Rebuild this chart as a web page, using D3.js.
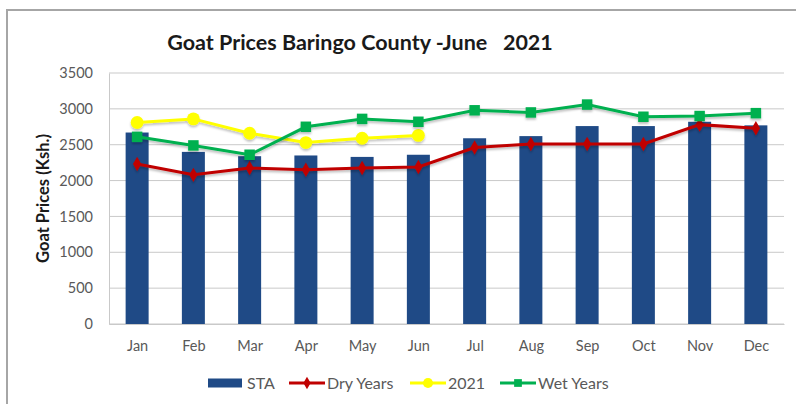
<!DOCTYPE html>
<html lang="en">
<head>
<meta charset="UTF-8">
<title>Goat Prices Baringo County</title>
<script src="https://d3js.org/d3.v7.min.js"></script>
<style>
    body{ margin:0; background:#fff; }
    text{ font-family: Lato, "Liberation Sans", Arial, sans-serif; }
    .tick text{ font-size:14.5px; fill:#595959; }
    .grid line{ stroke:#c9c9c9; }
</style>
</head>
<body>
<svg width="796" height="404"></svg>
<script>
    // data
    const months = ["Jan","Feb","Mar","Apr","May","Jun","Jul","Aug","Sep","Oct","Nov","Dec"]
    const sta = [2670, 2400, 2340, 2350, 2330, 2360, 2590, 2620, 2760, 2760, 2820, 2770]
    const dryYears = [2230, 2080, 2175, 2150, 2175, 2190, 2460, 2510, 2510, 2510, 2780, 2730]
    const y2021 = [2810, 2860, 2660, 2530, 2590, 2630]
    const wetYears = [2610, 2490, 2360, 2750, 2860, 2820, 2980, 2950, 3060, 2890, 2900, 2940]
    const yTicks = [0, 500, 1000, 1500, 2000, 2500, 3000, 3500]

    const svg = d3.select("svg")
    const margin = {left:109, right:12, top:73, bottom:80}
    const width = 796, height = 404

    // chart frame (cropped at right/bottom in the source)
    svg.append("rect")
        .attr("x", 7).attr("y", 10)
        .attr("width", 800).attr("height", 400)
        .attr("fill", "none").attr("stroke", "#a6a6a6").attr("stroke-width", 2)

    let xc = d3.scalePoint()
        .domain(months)
        .range([margin.left, width - margin.right])
        .padding(0.5)
    let y = d3.scaleLinear()
        .domain([0, 3500])
        .range([height - margin.bottom, margin.top])

    // gridlines
    svg.append("g").attr("class", "grid")
        .selectAll("line").data(yTicks).enter().append("line")
        .attr("x1", margin.left).attr("x2", width - margin.right)
        .attr("y1", d => y(d)).attr("y2", d => y(d))

    // y axis
    let yAxis = svg.append("g")
        .attr("transform", `translate(${margin.left},0)`)
        .call(d3.axisLeft(y).tickValues(yTicks).tickFormat(d3.format("d")).tickSize(0).tickPadding(16))
    yAxis.select(".domain").attr("stroke", "#c9c9c9")

    // x axis
    let xAxis = svg.append("g")
        .attr("transform", `translate(0,${height - margin.bottom})`)
        .call(d3.axisBottom(xc).tickSize(0).tickPadding(17))
    xAxis.select(".domain").attr("stroke", "#c9c9c9")

    // bars
    svg.append("g").selectAll("rect").data(sta).enter().append("rect")
        .attr("x", (d, i) => xc(months[i]) - 11.5)
        .attr("width", 23)
        .attr("y", d => y(d))
        .attr("height", d => y(0) - y(d))
        .attr("fill", "#1f4a86")

    let line = d3.line()
        .x((d, i) => xc(months[i]))
        .y(d => y(d))

    // soft shadow under the lines, like the source
    const defs = svg.append("defs")
    defs.append("filter").attr("id", "shadow")
        .attr("x", "-10%").attr("y", "-20%").attr("width", "120%").attr("height", "160%")
        .append("feDropShadow")
        .attr("dx", 0).attr("dy", 2).attr("stdDeviation", 1.2)
        .attr("flood-color", "#000").attr("flood-opacity", 0.25)

    function drawSeries(vals, color, shape, size) {
        let g = svg.append("g").attr("filter", "url(#shadow)")
        g.append("path").datum(vals)
            .attr("d", line)
            .attr("fill", "none")
            .attr("stroke", color)
            .attr("stroke-width", 3)
        g.selectAll("path.m").data(vals).enter().append("path")
            .attr("class", "m")
            .attr("d", d3.symbol().type(shape).size(size))
            .attr("transform", (d, i) => `translate(${xc(months[i])},${y(d)})`)
            .attr("fill", color)
    }

    drawSeries(dryYears, "#c00000", d3.symbolDiamond, 60)
    drawSeries(y2021, "#ffff00", d3.symbolCircle, 130)
    drawSeries(wetYears, "#00b050", d3.symbolSquare, 110)

    // title
    svg.append("text")
        .attr("x", 360).attr("y", 50)
        .attr("text-anchor", "middle")
        .attr("font-size", 21.5).attr("font-weight", "bold")
        .attr("fill", "#1a1a1a")
        .attr("xml:space", "preserve")
        .text("Goat Prices Baringo County -June   2021")

    // y axis title
    svg.append("text")
        .attr("transform", `translate(49,${(y(0) + y(3500)) / 2}) rotate(-90)`)
        .attr("text-anchor", "middle")
        .attr("font-size", 16.5).attr("font-weight", "bold")
        .attr("fill", "#1a1a1a")
        .text("Goat Prices (Ksh.)")

    // legend
    const legendItems = [
        {name:"STA", color:"#1f4a86", type:"bar", x:208},
        {name:"Dry Years", color:"#c00000", type:"line", shape:d3.symbolDiamond, size:45, x:289},
        {name:"2021", color:"#ffff00", type:"line", shape:d3.symbolCircle, size:80, x:410},
        {name:"Wet Years", color:"#00b050", type:"line", shape:d3.symbolSquare, size:60, x:500}
    ]
    const ly = 383
    let lg = svg.append("g").selectAll("g").data(legendItems).enter().append("g")
        .attr("transform", d => `translate(${d.x},${ly})`)
    lg.each(function (d) {
        let g = d3.select(this)
        if (d.type === "bar") {
            g.append("rect").attr("x", 0).attr("y", -4.5).attr("width", 34).attr("height", 9).attr("fill", d.color)
        } else {
            g.append("line").attr("x1", 0).attr("x2", 36).attr("y1", 0).attr("y2", 0)
                .attr("stroke", d.color).attr("stroke-width", 3)
            g.append("path").attr("d", d3.symbol().type(d.shape).size(d.size))
                .attr("transform", "translate(18,0)").attr("fill", d.color)
        }
        g.append("text").attr("x", d.type === "bar" ? 39 : 38).attr("y", 5.5)
            .attr("font-size", 16).attr("fill", "#595959")
            .text(d.name)
    })
</script>
</body>
</html>
